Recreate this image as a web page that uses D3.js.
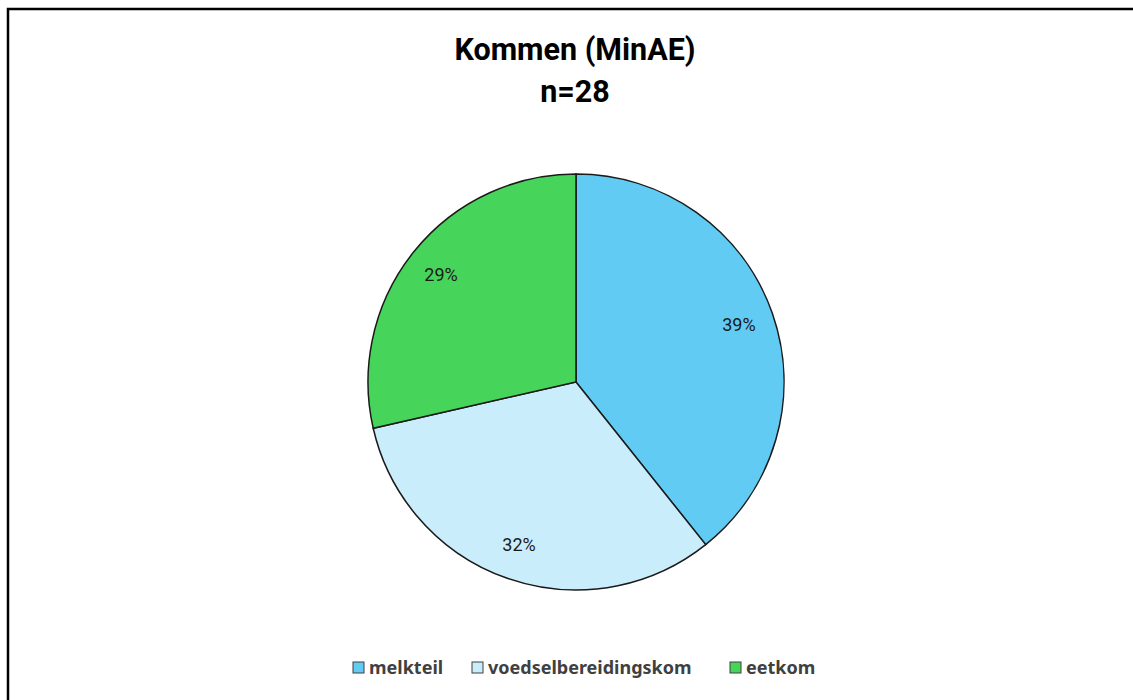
<!DOCTYPE html>
<html>
<head>
<meta charset="utf-8">
<script src="https://cdn.jsdelivr.net/npm/d3@7"></script>
<style>
  html, body { margin: 0; background: #fff; overflow: hidden; }
  svg { display: block; }
</style>
</head>
<body>
<div id="chart"></div>
<script>
var width = 1133;
var height = 700;

var categories = ['melkteil', 'voedselbereidingskom', 'eetkom'];
var counts = [11, 9, 8];
var colors = ['#61cbf3', '#caedfb', '#47d45a'];
var titleLines = ['Kommen (MinAE)', 'n=28'];

var total = d3.sum(counts);

var svg = d3.select('#chart').append('svg')
    .attr('width', width)
    .attr('height', height);

// frame: only top and left edges show in the picture
svg.append('path')
    .attr('d', 'M8,' + height + 'V9H' + width)
    .attr('fill', 'none')
    .attr('stroke', '#000')
    .attr('stroke-width', 2.5);

svg.selectAll('.title')
    .data(titleLines)
    .enter().append('text')
    .attr('class', 'title')
    .attr('x', 575)
    .attr('y', function(d, i) { return 60 + i * 42; })
    .attr('text-anchor', 'middle')
    .attr('font-family', 'Roboto, sans-serif')
    .attr('font-weight', 'bold')
    .attr('font-size', 30.5)
    .attr('fill', '#000')
    .text(function(d) { return d; });

var cx = 576, cy = 382, radius = 208;

var pie = d3.pie().sort(null).value(function(d) { return d; });
var arcs = pie(counts);

var arc = d3.arc().innerRadius(0).outerRadius(radius);
var labelArc = d3.arc().innerRadius(radius * 0.83).outerRadius(radius * 0.83);

var g = svg.append('g')
    .attr('transform', 'translate(' + cx + ',' + cy + ')');

g.selectAll('path')
    .data(arcs)
    .enter().append('path')
    .attr('d', arc)
    .attr('fill', function(d, i) { return colors[i]; })
    .attr('stroke', '#1a1a1a')
    .attr('stroke-width', 1.5);

g.selectAll('.lbl')
    .data(arcs)
    .enter().append('text')
    .attr('class', 'lbl')
    .attr('transform', function(d) { return 'translate(' + labelArc.centroid(d) + ')'; })
    .attr('text-anchor', 'middle')
    .attr('dy', '0.35em')
    .attr('font-family', 'Roboto, sans-serif')
    .attr('font-size', 18)
    .attr('fill', '#1a1a1a')
    .text(function(d) { return Math.round(d.value / total * 100) + '%'; });

// legend
var legendX = [353, 472, 730];
var legend = svg.selectAll('.leg')
    .data(categories)
    .enter().append('g')
    .attr('class', 'leg')
    .attr('transform', function(d, i) { return 'translate(' + legendX[i] + ',668)'; });

legend.append('rect')
    .attr('x', 0)
    .attr('y', -6)
    .attr('width', 11)
    .attr('height', 11)
    .attr('fill', function(d, i) { return colors[i]; })
    .attr('stroke', '#404040')
    .attr('stroke-width', 1);

legend.append('text')
    .attr('x', 16)
    .attr('y', 0)
    .attr('dy', '0.35em')
    .attr('font-family', 'Noto Sans, sans-serif')
    .attr('font-weight', 'bold')
    .attr('font-size', 18)
    .attr('fill', '#404040')
    .text(function(d) { return d; });
</script>
</body>
</html>
